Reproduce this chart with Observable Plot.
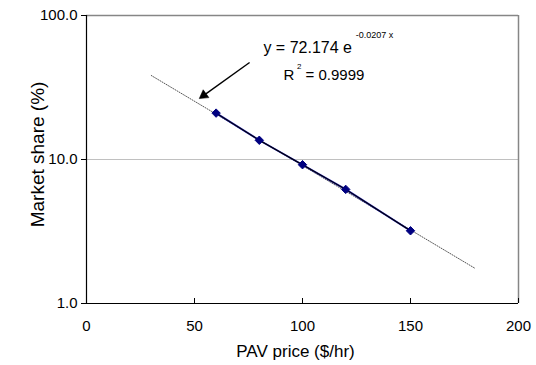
<!DOCTYPE html>
<html><head><meta charset="utf-8">
<script src="https://cdn.jsdelivr.net/npm/d3@7"></script>
<script src="https://cdn.jsdelivr.net/npm/@observablehq/plot@0.6"></script>
<style>
body{margin:0;background:#fff}
svg{display:block}
</style>
</head><body><div id="chart"></div>
<script>
// data series
const price = [60, 80, 100, 120, 150];
const share = [21.0, 13.6, 9.2, 6.2, 3.2];
// exponential trendline (dotted), its two ends
const trendPrice = [30, 180];
const trendShare = [38.3, 1.75];
// axes
const xTicks = [0, 50, 100, 150, 200];
const yTicks = [1, 10, 100];
const xTitle = "PAV price ($/hr)";
const yTitle = "Market share (%)";
// annotation text and anchor points (data coordinates)
const eqMain = ["y = 72.174 e"];
const eqMainAt = [81.9, 54.5];
const eqExp = ["-0.0207 x"];
const eqExpAt = [124.6, 69.5];
const r2Base = ["R"];
const r2BaseAt = [91.2, 35.4];
const r2Sup = ["2"];
const r2SupAt = [97.5, 42.8];
const r2Rest = ["= 0.9999"];
const r2RestAt = [101.4, 35.4];
const arrowFrom = [75.5, 47.2];
const arrowTo = [54.3, 27.9];

const points = price.map((p, i) => ({price: p, share: share[i]}));
const trend = trendPrice.map((p, i) => ({price: p, share: trendShare[i]}));
const font = "'Liberation Sans', Arial, Helvetica, sans-serif";

function label(txt, at, size) {
  return Plot.text(txt, {x: () => at[0], y: () => at[1], text: d => d,
    textAnchor: "start", lineAnchor: "bottom", fontSize: size, fill: "#000"});
}

const chart = Plot.plot({
  width: 536,
  height: 365,
  marginLeft: 86,
  marginRight: 18,
  marginTop: 15,
  marginBottom: 62,
  style: {fontFamily: font, fontSize: "15px", color: "#000", background: "#fff"},
  x: {domain: [0, 200]},
  y: {type: "log", domain: [1, 100]},
  marks: [
    Plot.ruleY([10], {stroke: "#c0c0c0", strokeWidth: 1}),
    Plot.ruleY([100], {stroke: "#868686", strokeWidth: 1.5}),
    Plot.ruleX([200], {stroke: "#868686", strokeWidth: 1.5}),
    Plot.line(trend, {x: "price", y: "share", stroke: "#555", strokeWidth: 1, strokeDasharray: "1,1.5"}),
    Plot.line(points, {x: "price", y: "share", stroke: "#2020b0", strokeWidth: 1.9}),
    Plot.line(points, {x: "price", y: "share", stroke: "#000", strokeWidth: 1.1}),
    Plot.dot(points, {x: "price", y: "share", symbol: "diamond2", r: 3.8, fill: "#000080", stroke: "#000080", strokeWidth: 1}),
    Plot.link([0], {x1: () => arrowFrom[0], y1: () => arrowFrom[1], x2: () => arrowTo[0], y2: () => arrowTo[1], stroke: "#000", strokeWidth: 1.4}),
    Plot.dot([0], {x: () => arrowTo[0], y: () => arrowTo[1], symbol: "triangle", r: 3.6, rotate: 234, fill: "#000", stroke: "#000", strokeWidth: 0.5}),
    Plot.ruleX([0], {stroke: "#000", strokeWidth: 1.2}),
    Plot.ruleY([1], {stroke: "#000", strokeWidth: 1.2}),
    Plot.axisY(yTicks, {tickFormat: d3.format(".1f"), tickSize: 5, tickPadding: 4, fontSize: 15, label: null}),
    Plot.axisX(xTicks, {tickSize: 5, dy: -5, tickFormat: () => "", label: null}),
    Plot.axisX(xTicks, {tickSize: 0, tickPadding: 17, fontSize: 15, label: null}),
    Plot.text([xTitle], {frameAnchor: "bottom", text: d => d, dx: -7, dy: 53, textAnchor: "middle", lineAnchor: "bottom", fontSize: 17, fill: "#000"}),
    Plot.text([yTitle], {frameAnchor: "left", text: d => d, dx: -43, dy: -5, rotate: -90, textAnchor: "middle", lineAnchor: "bottom", fontSize: 19, fill: "#000"}),
    label(eqMain, eqMainAt, 16),
    label(eqExp, eqExpAt, 9),
    label(r2Base, r2BaseAt, 15),
    label(r2Sup, r2SupAt, 8),
    label(r2Rest, r2RestAt, 15)
  ]
});
document.getElementById("chart").appendChild(chart);
</script>
</body></html>
